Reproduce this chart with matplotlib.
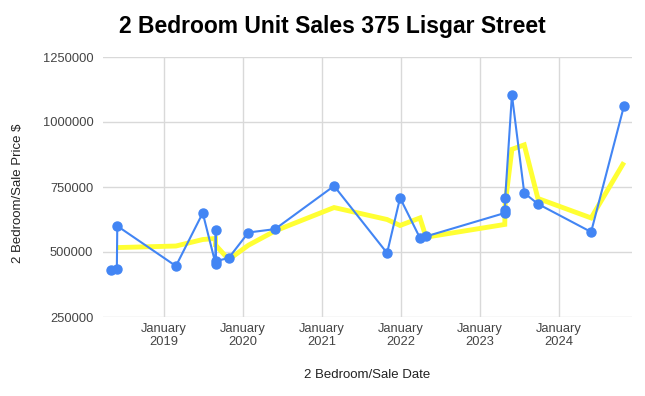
import matplotlib
matplotlib.use("Agg")
import matplotlib.pyplot as plt
import matplotlib.dates as mdates
import pandas as pd

# Sales (blue points)
sale_dates = ["2018-04-30", "2018-05-28", "2018-05-30", "2019-02-25", "2019-06-29",
              "2019-08-27", "2019-08-28", "2019-08-29", "2019-10-27", "2020-01-26",
              "2020-05-28", "2021-02-25", "2021-10-28", "2021-12-27", "2022-03-29",
              "2022-04-26", "2023-04-25", "2023-04-26", "2023-04-27", "2023-05-28",
              "2023-07-24", "2023-09-25", "2024-05-28", "2024-10-27"]
sale_prices = [430000, 435000, 600000, 446000, 650000,
               455000, 585000, 465000, 477000, 575000,
               588000, 754000, 496000, 708000, 554000,
               560000, 650000, 662000, 708000, 1104000,
               727000, 685000, 577000, 1062000]

# Trend line (yellow)
trend_dates = ["2018-05-30", "2019-02-25", "2019-06-29", "2019-08-27", "2019-08-28",
               "2019-08-29", "2019-10-27", "2020-01-26", "2020-05-28", "2021-02-25",
               "2021-10-28", "2021-12-27", "2022-03-29", "2022-04-26", "2023-04-25",
               "2023-04-26", "2023-04-27", "2023-05-28", "2023-07-24", "2023-09-25",
               "2024-05-28", "2024-10-27"]
trend_values = [517000, 523000, 548000, 552000, 520000,
                525000, 471000, 526000, 581000, 671000,
                625000, 602000, 631000, 557000, 606000,
                656000, 685000, 895000, 912000, 706000,
                631000, 845000]

y_ticks = [250000, 500000, 750000, 1000000, 1250000]
x_tick_years = [2019, 2020, 2021, 2022, 2023, 2024]

title = "2 Bedroom Unit Sales 375 Lisgar Street"
x_label = "2 Bedroom/Sale Date"
y_label = "2 Bedroom/Sale Price $"

plt.rcParams['font.family'] = ['Liberation Sans', 'DejaVu Sans']

fig = plt.figure(figsize=(6.45, 3.96), dpi=100)
ax = fig.add_axes([103/645, 1-317/396, (632-103)/645, (317-57)/396])

sd = pd.to_datetime(sale_dates)
td = pd.to_datetime(trend_dates)

ax.plot(td, trend_values, color="#ffff33", linewidth=3.5, zorder=2, solid_capstyle='butt',
        solid_joinstyle='miter')
ax.plot(sd, sale_prices, color="#4285f4", linewidth=1.5, marker='o', markersize=6.5,
        zorder=3)

ax.set_ylim(250000, 1250000)
ax.set_yticks(y_ticks)
ax.set_yticklabels([str(v) for v in y_ticks])
ax.set_xlim(pd.Timestamp("2018-03-25"), pd.Timestamp("2024-12-03"))
xt = [pd.Timestamp(f"{y}-01-01") for y in x_tick_years]
ax.set_xticks(xt)
ax.set_xticklabels([f"January\n{y}" for y in x_tick_years])

for s in ax.spines.values():
    s.set_visible(False)
ax.grid(True, color="#d9d9d9", linewidth=1.0, zorder=0)
ax.set_axisbelow(True)
ax.tick_params(axis='both', length=0, labelsize=9.3, colors="#444444")
ax.tick_params(axis='y', pad=7)
ax.tick_params(axis='x', pad=4)
for lbl in ax.get_xticklabels():
    lbl.set_linespacing(1.15)

fig.text(332/645, 1-26/396, title, ha='center', va='center', fontsize=16.5,
         fontweight='bold', color="#000000")
fig.text(367/645, 1-375/396, x_label, ha='center', va='center', fontsize=9.5, color="#222222")
fig.text(18/645, 1-193/396, y_label, ha='center', va='center', rotation=90,
         fontsize=9.5, color="#222222")

fig.savefig("out.png", dpi=100)
